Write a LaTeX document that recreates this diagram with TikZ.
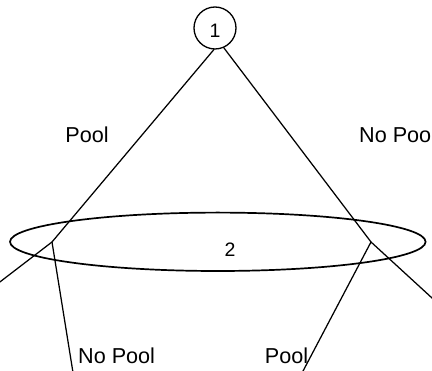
\documentclass[tikz,border=0pt]{standalone}
\usepackage{fontspec}
\setmainfont{Liberation Sans}
\usetikzlibrary{shapes.geometric}
\tikzset{
  branch/.style={line width=1.25pt, line cap=round},
  label/.style={inner sep=0pt, font=\fontsize{21.6}{24}\selectfont},
  digit/.style={inner sep=0pt, font=\fontsize{19.5}{22}\selectfont},
}
\begin{document}
\begin{tikzpicture}[x=1pt, y=-1pt]
  \useasboundingbox (0,0) rectangle (432,371);

  % decision node 1 and information set 2
  \node[draw, circle, line width=1.3pt, minimum size=42pt, inner sep=0pt] (n1) at (215,28) {};
  \node[digit] at (215,31) {1};
  \node[draw, ellipse, line width=1.7pt, minimum width=415.6pt, minimum height=58.4pt, inner sep=0pt] (set2) at (217.8,241.8) {};
  \node[digit] (t2) at (230,250) {2};

  % branch points inside the information set
  \coordinate (a) at (52,242);
  \coordinate (b) at (371,242);

  % loose ends running off the page
  \coordinate (aL) at (-21,298);
  \coordinate (aB) at (74.2,380);
  \coordinate (bR) at (450,314.5);
  \coordinate (bB) at (298.3,380);

  % first move
  \draw[branch] (n1.-93) -- (a);
  \draw[branch] (n1.-66) -- (b);

  % second move
  \draw[branch] (a) -- (aL);
  \draw[branch] (a) -- (aB);
  \draw[branch] (b) -- (bR);
  \draw[branch] (b) -- (bB);

  % action labels
  \node[label] (l1) at (87,135) {Pool};
  \node[label, anchor=west] (l2) at (359,135) {No Pool};
  \node[label, anchor=west] (l3) at (78,356) {No Pool};
  \node[label] (l4) at (286.5,356) {Pool};
\end{tikzpicture}
\end{document}
